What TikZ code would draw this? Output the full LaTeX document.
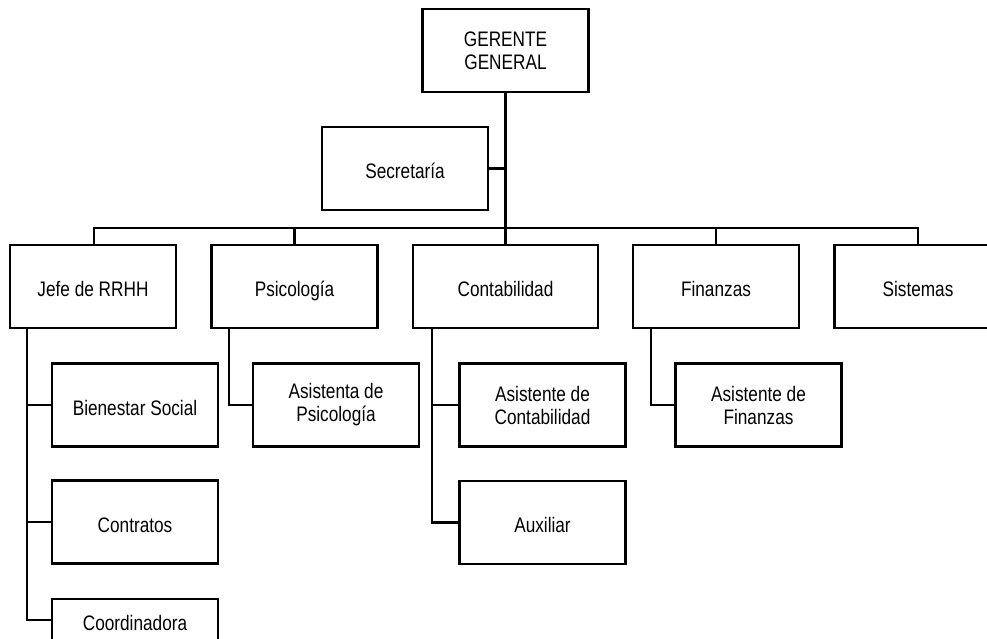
\documentclass[tikz,border=0pt]{standalone}
\usepackage{fontspec}
\setmainfont{Liberation Sans}[FakeStretch=0.82]
\begin{document}
\begin{tikzpicture}[x=1pt,y=-1pt,
  box/.style={draw=black,line width=2.4pt,rectangle,inner sep=0pt,outer sep=0pt,
    minimum width=166pt,minimum height=83pt,align=center,
    font=\fontsize{21}{23}\selectfont},
  single/.style={text height=20pt,text depth=0pt},
  link/.style={draw=black,line width=2.4pt}]
\useasboundingbox (0,0) rectangle (987,639);
\clip (0,0) rectangle (987,639);
% level 0
\node[box] (gg) at (505.5,50.5) {GERENTE\\GENERAL};
\node[box,single] (sec) at (405,168.5) {Secretaría};
% level 1
\node[box,single] (jefe) at (93,286.5) {Jefe de RRHH};
\node[box,single] (psi) at (294.5,286.5) {Psicología};
\node[box,single,minimum width=185pt] (cont) at (505.5,286.5) {Contabilidad};
\node[box,single] (fin) at (716,286.5) {Finanzas};
\node[box,single,minimum width=167pt] (sis) at (918,286.5) {Sistemas};
% level 2
\node[box,single] (bien) at (135,405) {Bienestar Social};
\node[box,single] (contr) at (135,522) {Contratos};
\node[box,single,minimum height=42pt] (coord) at (135,620) {Coordinadora};
\node[box] (asp) at (336,405) {Asistenta de\\Psicología};
\node[box] (asc) at (542.5,405) {Asistente de\\Contabilidad};
\node[box,single] (aux) at (542.5,522.5) {Auxiliar};
\node[box] (asf) at (758.5,405) {Asistente de\\Finanzas};
% coordinates
\coordinate (busL) at (94,228);
\coordinate (busR) at (918,228);
\coordinate (secj) at (506,168.5);
% connectors
\draw[link] (gg.south) -- (cont.north);
\draw[link] (sec.east) -- (secj);
\draw[link,line cap=rect] (busL) -- (busR);
\draw[link] (busL) -- (jefe.north -| busL);
\draw[link] (psi.north |- busL) -- (psi.north);
\draw[link] (fin.north |- busL) -- (fin.north);
\draw[link] (busR) -- (sis.north -| busR);
% RRHH
\draw[link] (jefe.south -| 27,0) -- (27,620) -- (coord.west);
\draw[link] (27,405) -- (bien.west);
\draw[link] (27,522) -- (contr.west);
% Psicologia
\draw[link] (psi.south -| 229,0) -- (229,405) -- (asp.west);
% Contabilidad
\draw[link] (cont.south -| 432,0) -- (432,522.5) -- (aux.west);
\draw[link] (432,405) -- (asc.west);
% Finanzas
\draw[link] (fin.south -| 651,0) -- (651,405) -- (asf.west);
\end{tikzpicture}
\end{document}
